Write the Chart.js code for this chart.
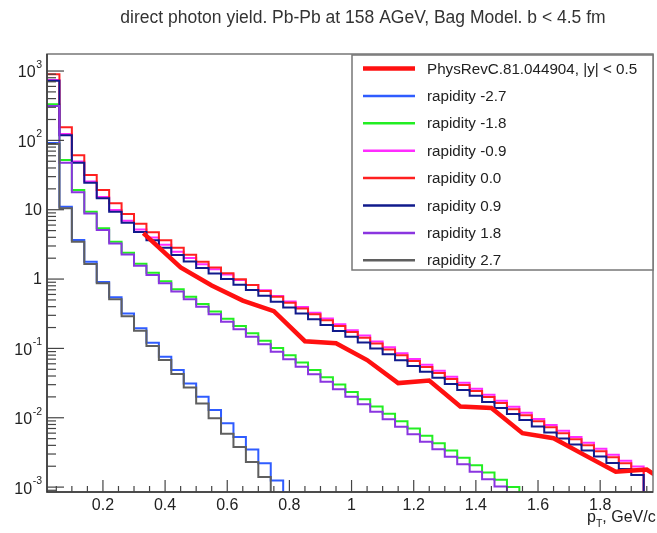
<!DOCTYPE html>
<html>
<head>
<meta charset="utf-8">
<script src="https://cdn.jsdelivr.net/npm/chart.js@4.4.1/dist/chart.umd.min.js"></script>
<style>
  html, body { margin: 0; padding: 0; background: #fff; }
  canvas { display: block; }
</style>
</head>
<body>
<canvas id="photonYieldChart" width="657" height="533"></canvas>
<script>
// histogram binning in pT (GeV/c)
const binStart = 0.02;
const binWidth = 0.04;

const rapidityLabels = ["rapidity -2.7", "rapidity -1.8", "rapidity -0.9", "rapidity 0.0", "rapidity 0.9", "rapidity 1.8", "rapidity 2.7"];
const rapidityColors = ["#2f5cff", "#22ee22", "#ff2cff", "#ff2020", "#101a8c", "#8a35e0", "#5f5f5f"];

// bin contents (log scale)
const yieldM27 = [92, 11, 3.65, 1.78, 0.91, 0.545, 0.32, 0.195, 0.121, 0.076, 0.0487, 0.0313, 0.0201, 0.0129, 0.0083, 0.0053, 0.0035, 0.0022, 0.00125];
const yieldM18 = [333, 52, 19.2, 9.35, 5.4, 3.45, 2.4, 1.66, 1.23, 0.933, 0.716, 0.556, 0.437, 0.342, 0.2685, 0.2104, 0.1652, 0.1294, 0.1014, 0.0796, 0.0624, 0.049, 0.0384, 0.0301, 0.0236, 0.0185, 0.01452, 0.01138, 0.00891, 0.007, 0.00548, 0.0043, 0.00337, 0.00264, 0.00207, 0.00163, 0.00128, 0.001];
const yieldM09 = [745, 124, 49.5, 25.5, 15.3, 9.9, 6.95, 5.17, 3.97, 3.12, 2.48, 2.02, 1.64, 1.38, 1.16, 0.97, 0.82, 0.689, 0.572, 0.475, 0.396, 0.3255, 0.27, 0.2226, 0.1834, 0.153, 0.1257, 0.1036, 0.0852, 0.0702, 0.0579, 0.0478, 0.0391, 0.032, 0.0262, 0.0215, 0.0176, 0.01436, 0.01177, 0.00961, 0.00788, 0.00648, 0.00529, 0.00436, 0.00358, 0.00293, 0.0024, 0.00198];
const yield00 = [900, 154, 61, 31.6, 19.2, 12.4, 8.65, 6.3, 4.73, 3.63, 2.82, 2.24, 1.78, 1.47, 1.21, 0.99, 0.82, 0.675, 0.555, 0.457, 0.377, 0.31, 0.255, 0.21, 0.173, 0.143, 0.1175, 0.0968, 0.0796, 0.0656, 0.0541, 0.0443, 0.0362, 0.0296, 0.0243, 0.0199, 0.0163, 0.0133, 0.0109, 0.0089, 0.0073, 0.006, 0.0049, 0.004, 0.00328, 0.00269, 0.0022, 0.0018];
const yieldP09 = [725, 119, 47.5, 24.5, 14.6, 9.35, 6.5, 4.79, 3.64, 2.83, 2.23, 1.79, 1.44, 1.205, 1.0, 0.83, 0.697, 0.574, 0.472, 0.388, 0.32, 0.264, 0.217, 0.179, 0.147, 0.1216, 0.0999, 0.0823, 0.0677, 0.0558, 0.046, 0.0377, 0.0308, 0.0252, 0.0207, 0.0169, 0.01386, 0.0113, 0.00927, 0.00748, 0.00613, 0.00504, 0.00412, 0.00336, 0.00276, 0.00223, 0.00183, 0.0015];
const yieldP18 = [312, 47.5, 17.8, 8.85, 5.1, 3.27, 2.27, 1.56, 1.149, 0.867, 0.6615, 0.5104, 0.399, 0.3105, 0.2424, 0.1888, 0.1474, 0.1148, 0.0894, 0.0698, 0.0544, 0.0425, 0.0331, 0.0258, 0.0201, 0.01567, 0.01223, 0.00954, 0.00742, 0.0058, 0.00451, 0.00352, 0.00274, 0.00214, 0.00166, 0.0013, 0.00102];
const yieldP27 = [89, 10.5, 3.45, 1.65, 0.87, 0.51, 0.29, 0.18, 0.108, 0.068, 0.0426, 0.0274, 0.0161, 0.0098, 0.0059, 0.0038, 0.0023, 0.0014];

// PhysRevC.81.044904, |y| < 0.5
const refLabel = "PhysRevC.81.044904, |y| < 0.5";
const refPt = [0.33, 0.45, 0.55, 0.65, 0.75, 0.85, 0.95, 1.05, 1.15, 1.25, 1.35, 1.45, 1.55, 1.65, 1.75, 1.85, 1.95, 2.05];
const refYield = [4.6, 1.47, 0.81, 0.49, 0.345, 0.127, 0.119, 0.068, 0.0316, 0.0344, 0.0145, 0.0138, 0.006, 0.00508, 0.00289, 0.00167, 0.00179, 0.00091];

const yTickExps = [3, 2, 1, 0, -1, -2, -3];
const xTickValues = [0.2, 0.4, 0.6, 0.8, 1, 1.2, 1.4, 1.6, 1.8];

const allYields = [yieldM27, yieldM18, yieldM09, yield00, yieldP09, yieldP18, yieldP27];

// step outline: left edge of each bin, plus a drop at the last edge
function histPoints(values) {
  const pts = values.map((v, i) => ({ x: binStart + i * binWidth, y: v }));
  pts.push({ x: binStart + values.length * binWidth, y: 1e-7 });
  return pts;
}

const datasets = [
  {
    label: refLabel,
    data: refPt.map((x, i) => ({ x: x, y: refYield[i] })),
    borderColor: "#ff1010",
    borderWidth: 4.5,
    pointRadius: 0,
    order: 0,
  },
];
allYields.forEach((vals, i) => {
  datasets.push({
    label: rapidityLabels[i],
    data: histPoints(vals),
    borderColor: rapidityColors[i],
    borderWidth: 2,
    pointRadius: 0,
    stepped: true,
    order: 7 - i,
  });
});

const FONT = "'Liberation Sans', Arial, Helvetica, sans-serif";

const rootFrame = {
  id: "rootFrame",
  afterDraw(chart) {
    const ctx = chart.ctx;
    const area = chart.chartArea;
    const xs = chart.scales.x;
    const ys = chart.scales.y;
    ctx.save();

    // frame
    ctx.strokeStyle = "#777";
    ctx.lineWidth = 1.5;
    ctx.strokeRect(area.left, area.top, area.right - area.left, area.bottom - area.top);
    ctx.strokeStyle = "#333";
    ctx.beginPath();
    ctx.moveTo(area.left, area.top);
    ctx.lineTo(area.left, area.bottom);
    ctx.lineTo(area.right, area.bottom);
    ctx.stroke();

    // y ticks (log)
    ctx.lineWidth = 1.2;
    ctx.strokeStyle = "#444";
    for (let e = -4; e <= 3; e++) {
      for (let k = 1; k <= 9; k++) {
        const v = k * Math.pow(10, e);
        if (v < ys.min || v > ys.max) continue;
        const py = ys.getPixelForValue(v);
        const len = k === 1 ? 17 : 9;
        ctx.beginPath();
        ctx.moveTo(area.left, py);
        ctx.lineTo(area.left + len, py);
        ctx.stroke();
      }
    }
    // x ticks
    for (let i = 1; i * 0.05 < xs.max; i++) {
      const v = i * 0.05;
      if (v < xs.min) continue;
      const px = xs.getPixelForValue(v);
      const len = i % 4 === 0 ? 12 : 6;
      ctx.beginPath();
      ctx.moveTo(px, area.bottom);
      ctx.lineTo(px, area.bottom - len);
      ctx.stroke();
    }

    // y labels
    ctx.fillStyle = "#222";
    ctx.textBaseline = "middle";
    yTickExps.forEach((e) => {
      const py = ys.getPixelForValue(Math.pow(10, e));
      const right = 42;
      if (e === 0 || e === 1) {
        ctx.font = "16px " + FONT;
        ctx.textAlign = "right";
        ctx.fillText(e === 0 ? "1" : "10", right, py + 1);
      } else {
        ctx.font = "10.5px " + FONT;
        const sup = String(e);
        const sw = ctx.measureText(sup).width;
        ctx.textAlign = "left";
        ctx.fillText(sup, right - sw, py - 6);
        ctx.font = "16px " + FONT;
        ctx.textAlign = "right";
        ctx.fillText("10", right - sw - 0.5, py + 2);
      }
    });

    // x labels
    ctx.font = "16px " + FONT;
    ctx.textAlign = "center";
    ctx.textBaseline = "middle";
    xTickValues.forEach((v) => {
      ctx.fillText(String(v), xs.getPixelForValue(v), area.bottom + 14);
    });

    // x title  p_T, GeV/c
    ctx.textAlign = "left";
    ctx.textBaseline = "alphabetic";
    let tx = 587;
    ctx.font = "16px " + FONT;
    ctx.fillText("p", tx, 522);
    tx += ctx.measureText("p").width;
    ctx.font = "10.5px " + FONT;
    ctx.fillText("T", tx, 527);
    tx += ctx.measureText("T").width;
    ctx.font = "16px " + FONT;
    ctx.fillText(", GeV/c", tx, 522);

    // title
    ctx.font = "17.5px " + FONT;
    ctx.fillStyle = "#333";
    ctx.textAlign = "center";
    ctx.textBaseline = "middle";
    ctx.fillText("direct photon yield. Pb-Pb at 158 AGeV, Bag Model. b < 4.5 fm", 363, 18);

    // legend box
    const lx = 352, ly = 55, lw = area.right - 352, lh = 215;
    ctx.fillStyle = "#fff";
    ctx.fillRect(lx, ly, lw, lh);
    ctx.strokeStyle = "#777";
    ctx.lineWidth = 1.5;
    ctx.strokeRect(lx, ly, lw, lh);
    ctx.font = "15.2px " + FONT;
    ctx.textAlign = "left";
    ctx.textBaseline = "middle";
    chart.data.datasets.forEach((ds, i) => {
      const ry = 68.5 + i * 27.4;
      ctx.strokeStyle = ds.borderColor;
      ctx.lineWidth = i === 0 ? 4.5 : 2.5;
      ctx.beginPath();
      ctx.moveTo(363, ry);
      ctx.lineTo(415, ry);
      ctx.stroke();
      ctx.fillStyle = "#222";
      ctx.fillText(ds.label, 427, ry + 1);
    });

    ctx.restore();
  },
};

const ctx = document.getElementById("photonYieldChart").getContext("2d");

const photonChart = new Chart(ctx, {
  type: "line",
  data: { datasets: datasets },
  options: {
    responsive: false,
    animation: false,
    layout: { padding: { left: 47, top: 54, right: 4, bottom: 41 } },
    plugins: {
      legend: { display: false },
      title: { display: false },
      tooltip: { enabled: false },
    },
    scales: {
      x: { type: "linear", min: 0.02, max: 1.97, display: false },
      y: { type: "logarithmic", min: 8.5e-4, max: 1760, display: false },
    },
  },
  plugins: [rootFrame],
});
</script>
</body>
</html>
